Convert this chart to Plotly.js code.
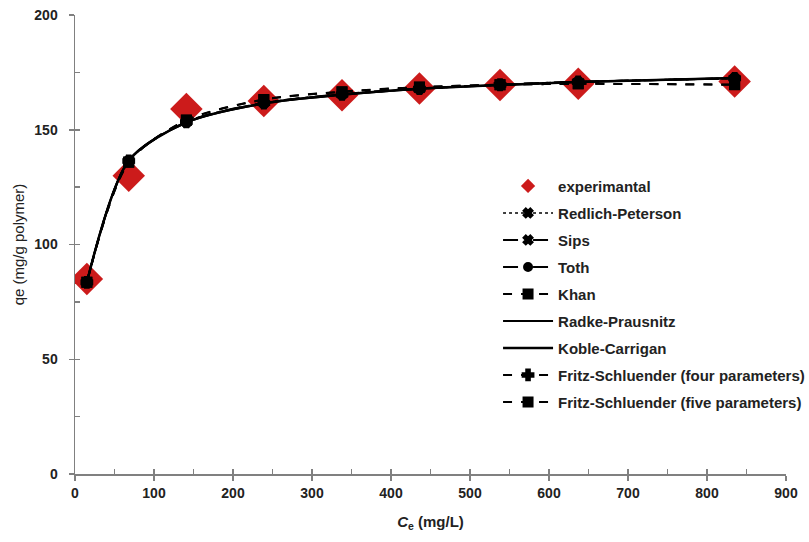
<!DOCTYPE html>
<html><head><meta charset="utf-8">
<script src="https://cdn.plot.ly/plotly-3.0.1.min.js"></script>
<style>html,body{margin:0;padding:0;background:#fff}#chart{width:809px;height:542px}</style>
</head><body><div id="chart"></div>
<script>
// Equilibrium concentration Ce (mg/L)
const ce = [15, 68, 141, 239, 338, 436, 538, 637, 835];
// Experimental qe (mg/g polymer)
const qeExp = [85, 130, 159, 162.5, 165, 168, 169.5, 170, 171];
// Model fits
const qeRedlich = [83.5, 136.5, 153.2, 161.5, 165.3, 167.8, 169.5, 170.8, 172.5];
const qeSips = [83.5, 136.3, 153.3, 161.6, 165.4, 167.9, 169.6, 170.8, 172.4];
const qeToth = [83.4, 136.4, 153.4, 161.7, 165.5, 168.0, 169.6, 170.9, 172.4];
const qeKhan = [83.6, 135.8, 154.2, 163.2, 166.6, 168.6, 169.6, 170.0, 169.6];
const qeRadke = [83.5, 136.6, 153.1, 161.4, 165.2, 167.8, 169.5, 170.8, 172.6];
const qeKoble = [83.5, 136.5, 153.2, 161.5, 165.3, 167.9, 169.5, 170.8, 172.5];
const qeFritz4 = [83.5, 136.4, 153.4, 161.6, 165.4, 167.9, 169.6, 170.8, 172.4];
const qeFritz5 = [83.6, 135.9, 154.1, 163.1, 166.5, 168.5, 169.6, 170.0, 169.7];

const names = ["Redlich-Peterson","Sips","Toth","Khan","Radke-Prausnitz","Koble-Carrigan","Fritz-Schluender (four parameters)","Fritz-Schluender (five parameters)"];
const series = [qeRedlich, qeSips, qeToth, qeKhan, qeRadke, qeKoble, qeFritz4, qeFritz5];
const dashes = ["dot","longdash","longdashdot","dash","solid","solid","dash","dash"];
const symbols = ["x","x","circle","square","line-ew","line-ew","cross","square"];
const msizes = [8,8,8,9,7,8,9,9];
const lwidths = [1.5,2,2,2,2,2.5,2,2];

const FONT = "Liberation Sans, Arial, sans-serif";
const traces = [{
  x: ce, y: qeExp, name: "experimantal", mode: "markers", type: "scatter",
  marker: {symbol: "diamond", size: 25, color: "#cc1b1b"}, legendgroup: "g0", showlegend: false
}, {
  x: [null], y: [null], name: "experimantal", mode: "markers", type: "scatter",
  marker: {symbol: "diamond", size: 11, color: "#cc1b1b"}, legendgroup: "g0"
}];
series.forEach((s, i) => {
  traces.push({
    x: ce, y: s, name: names[i], type: "scatter", mode: "lines+markers",
    line: {color: "#000", width: lwidths[i], dash: dashes[i], shape: "spline", smoothing: 0.8},
    marker: {symbol: symbols[i], size: msizes[i], color: "#000", line: {color: "#000", width: 2}},
    legendgroup: "g" + (i + 1)
  });
});
// invisible trace to carry the overlay axes (inside minor ticks)
traces.push({x: [null], y: [null], xaxis: "x2", yaxis: "y2", showlegend: false, type: "scatter", mode: "markers", hoverinfo: "skip"});

const tickFont = {family: FONT, size: 14, color: "#222", weight: "bold"};
const layout = {
  width: 809, height: 542,
  margin: {l: 75, r: 23, t: 15, b: 68, autoexpand: false},
  paper_bgcolor: "#fff", plot_bgcolor: "#fff",
  showlegend: true,
  legend: {x: 0.595, y: 0.663, xanchor: "left", yanchor: "top", traceorder: "grouped", tracegroupgap: 4.5,
    itemwidth: 50, bgcolor: "rgba(0,0,0,0)",
    font: {family: FONT, size: 15, color: "#222", weight: "bold"}},
  xaxis: {range: [0, 900], dtick: 100, tick0: 0, showgrid: false, zeroline: false, showline: true,
    linecolor: "#808080", linewidth: 1.5, ticks: "outside", ticklen: 5, tickcolor: "#808080", tickwidth: 1.5,
    tickfont: tickFont, ticklabelstandoff: 1,
    title: {text: "<i>C</i><sub>e</sub> (mg/L)", font: {family: FONT, size: 15, color: "#222", weight: "bold"}, standoff: 16}},
  yaxis: {range: [0, 200], dtick: 50, tick0: 0, showgrid: false, zeroline: false, showline: true,
    linecolor: "#808080", linewidth: 1.5, ticks: "outside", ticklen: 5, tickcolor: "#808080", tickwidth: 1.5,
    tickfont: tickFont, ticklabelstandoff: 8,
    title: {text: "qe (mg/g polymer)", font: {family: FONT, size: 15, color: "#222"}, standoff: 6}},
  xaxis2: {range: [0, 900], overlaying: "x", anchor: "y", side: "bottom", dtick: 50, tick0: 0,
    showgrid: false, zeroline: false, showline: false, ticks: "inside", ticklen: 5, tickcolor: "#808080", tickwidth: 1.5, showticklabels: false},
  yaxis2: {range: [0, 200], overlaying: "y", anchor: "x", side: "left", dtick: 25, tick0: 0,
    showgrid: false, zeroline: false, showline: false, ticks: "inside", ticklen: 5, tickcolor: "#808080", tickwidth: 1.5, showticklabels: false}
};
Plotly.newPlot("chart", traces, layout, {displayModeBar: false, staticPlot: true});
</script></body></html>
